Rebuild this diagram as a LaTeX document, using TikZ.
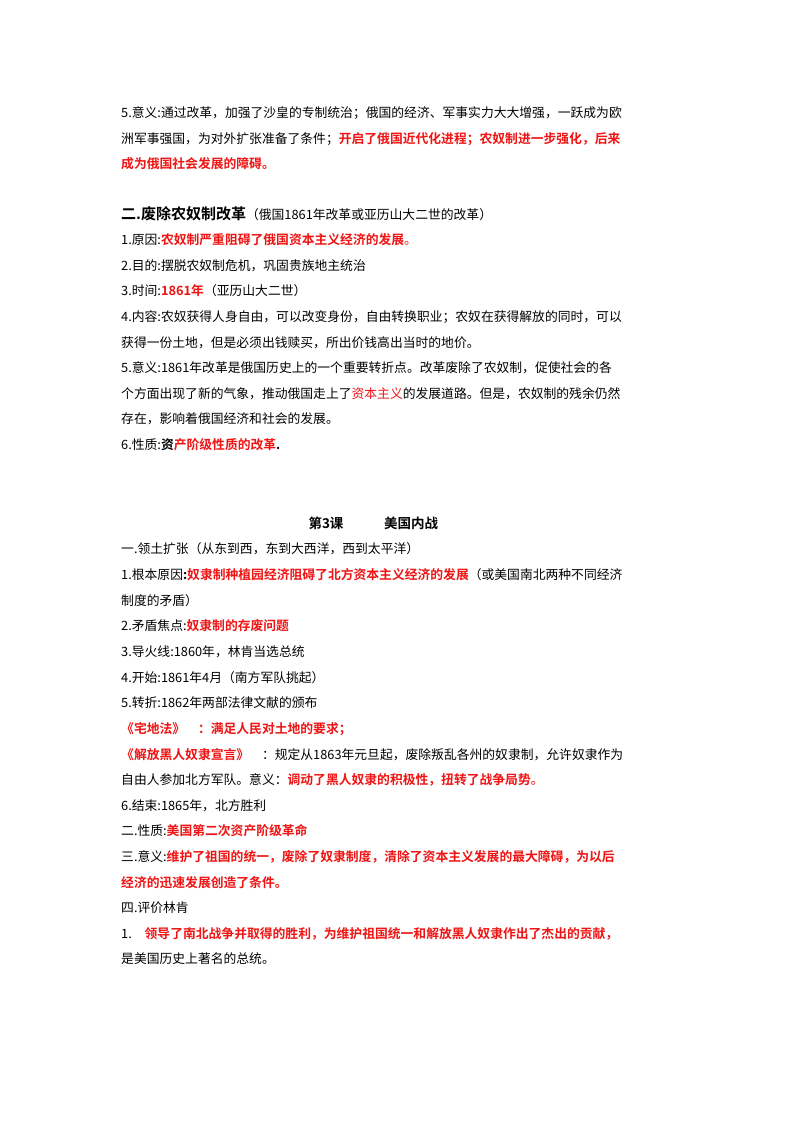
\documentclass[tikz,border=0pt]{standalone}
\usepackage{fontspec}
\setmainfont{Liberation Serif}
\newfontfamily\cjk{Noto Sans CJK SC}
\newfontfamily\cjkb{Noto Sans CJK SC Bold}
\definecolor{keyred}{RGB}{240,20,20}
\newcommand{\hl}[1]{{\cjkb\color{keyred}#1}}
\tikzset{
  txt/.style={anchor=base west, inner sep=0pt, font=\cjk\fontsize{12.8}{14}\selectfont},
  ttl/.style={anchor=base, inner sep=0pt, font=\cjkb\fontsize{13.5}{15}\selectfont}
}
\begin{document}
\begin{tikzpicture}[x=1pt,y=-1pt]
    \useasboundingbox[fill=white] (0,0) rectangle (800,1132);
    % Russia reform, end of lesson 2
    \node[txt] (a1) at (121,117) {5.意义:通过改革，加强了沙皇的专制统治；俄国的经济、军事实力大大增强，一跃成为欧};
    \node[txt] (a2) at (121,143) {洲军事强国，为对外扩张准备了条件；\hl{开启了俄国近代化进程；农奴制进一步强化，后来}};
    \node[txt] (a3) at (121,168) {\hl{成为俄国社会发展的障碍。}};
    % Abolition of serfdom
    \node[txt] (b0) at (121,219) {{\cjkb\fontsize{15}{16}\selectfont 二.废除农奴制改革}（俄国1861年改革或亚历山大二世的改革）};
    \node[txt] (b1) at (121,244) {1.原因:\hl{农奴制严重阻碍了俄国资本主义经济的发展}{\color{keyred}。}};
    \node[txt] (b2) at (121,270) {2.目的:摆脱农奴制危机，巩固贵族地主统治};
    \node[txt] (b3) at (121,295) {3.时间:\hl{1861年}（亚历山大二世）};
    \node[txt] (b4) at (121,321) {4.内容:农奴获得人身自由，可以改变身份，自由转换职业；农奴在获得解放的同时，可以};
    \node[txt] (b5) at (121,347) {获得一份土地，但是必须出钱赎买，所出价钱高出当时的地价。};
    \node[txt] (b6) at (121,372) {5.意义:1861年改革是俄国历史上的一个重要转折点。改革废除了农奴制，促使社会的各};
    \node[txt] (b7) at (121,398) {个方面出现了新的气象，推动俄国走上了{\color{keyred}资本主义}的发展道路。但是，农奴制的残余仍然};
    \node[txt] (b8) at (121,423) {存在，影响着俄国经济和社会的发展。};
    \node[txt] (b9) at (121,449) {6.性质:{\cjkb 资}\hl{产阶级性质的改革}{\cjkb .}};
    % Lesson 3
    \node[ttl] (t1) at (326,528) {第3课};
    \node[ttl] (t2) at (411,528) {美国内战};
    \node[txt] (c1) at (121,553) {一.领土扩张（从东到西，东到大西洋，西到太平洋）};
    \node[txt] (c2) at (121,579) {1.根本原因{\cjkb :}\hl{奴隶制种植园经济阻碍了北方资本主义经济的发展}（或美国南北两种不同经济};
    \node[txt] (c3) at (121,605) {制度的矛盾）};
    \node[txt] (c4) at (121,630) {2.矛盾焦点:\hl{奴隶制的存废问题}};
    \node[txt] (c5) at (121,656) {3.导火线:1860年，林肯当选总统};
    \node[txt] (c6) at (121,682) {4.开始:1861年4月（南方军队挑起）};
    \node[txt] (c7) at (121,707) {5.转折:1862年两部法律文献的颁布};
    \node[txt] (c8) at (121,733) {\hl{《宅地法》\quad ：满足人民对土地的要求；}};
    \node[txt] (c9) at (121,759) {\hl{《解放黑人奴隶宣言》}\quad ：规定从1863年元旦起，废除叛乱各州的奴隶制，允许奴隶作为};
    \node[txt] (c10) at (121,784) {自由人参加北方军队。意义：\hl{调动了黑人奴隶的积极性，扭转了战争局势}{\color{keyred}。}};
    \node[txt] (c11) at (121,810) {6.结束:1865年，北方胜利};
    \node[txt] (c12) at (121,835) {二.性质:\hl{美国第二次资产阶级革命}};
    \node[txt] (c13) at (121,861) {三.意义:\hl{维护了祖国的统一，废除了奴隶制度，清除了资本主义发展的最大障碍，为以后}};
    \node[txt] (c14) at (121,887) {\hl{经济的迅速发展创造了条件。}};
    \node[txt] (c15) at (121,912) {四.评价林肯};
    \node[txt] (c16) at (121,938) {1.\quad \hl{领导了南北战争并取得的胜利，为维护祖国统一和解放黑人奴隶作出了杰出的贡献，}};
    \node[txt] (c17) at (121,963) {是美国历史上著名的总统。};
\end{tikzpicture}
\end{document}
